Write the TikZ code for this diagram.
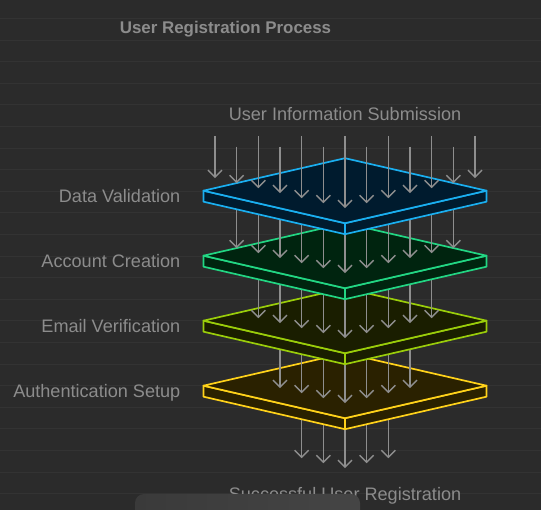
\documentclass[tikz,border=0pt]{standalone}
\usepackage{fontspec}
\setmainfont{Liberation Sans}
\usepackage{tikz}
\usetikzlibrary{arrows.meta}
\definecolor{BgGray}{HTML}{2B2B2B}
\definecolor{GridGray}{HTML}{333333}
\definecolor{TextGray}{HTML}{8C8C8C}
\definecolor{FlowGray}{HTML}{8E8E8E}
\definecolor{ValBlue}{HTML}{1AAFF0}
\definecolor{ValFill}{HTML}{001B2E}
\definecolor{AccGreen}{HTML}{22D683}
\definecolor{AccFill}{HTML}{00240F}
\definecolor{MailLime}{HTML}{9ACD0A}
\definecolor{MailFill}{HTML}{1A1E00}
\definecolor{AuthGold}{HTML}{FFD21A}
\definecolor{AuthFill}{HTML}{2A2100}
\definecolor{PanelDark}{HTML}{3A3A3A}
\definecolor{PanelLight}{HTML}{454545}

% one slab: #1 centre y, #2 edge colour, #3 fill colour
\newcommand{\drawlayer}[3]{%
  \begin{scope}[draw=#2,fill=#3,line width=1.7pt,line join=round]
    \filldraw (203.5,#1) -- (345,{#1+32.5}) -- (345,{#1+43.5}) -- (203.5,{#1+11}) -- cycle;
    \filldraw (486.5,#1) -- (345,{#1+32.5}) -- (345,{#1+43.5}) -- (486.5,{#1+11}) -- cycle;
    \filldraw (203.5,#1) -- (345,{#1-32.5}) -- (486.5,#1) -- (345,{#1+32.5}) -- cycle;
  \end{scope}}
% one row of arrows: #1 half count, #2 centre y of the slab below, #3 start y
\newcommand{\flowrow}[3]{%
  \foreach \j in {-#1,...,#1}{
    \draw[flow] ({345+21.67*\j},#3) -- ({345+21.67*\j},{#2+17.5-5*abs(\j)});
  }}

\begin{document}
\begin{tikzpicture}[
  x=1pt,y=-1pt,
  flow/.style={-{Straight Barb[length=7pt,width=14pt,line width=1.4pt]},line width=1.4pt,FlowGray},
  layerlbl/.style={anchor=base east,inner sep=0pt,text=TextGray,font=\fontsize{18.1}{21}\selectfont},
  endlbl/.style={anchor=base,inner sep=0pt,text=TextGray,font=\fontsize{18.1}{21}\selectfont}
]
\useasboundingbox (0,0) rectangle (541,510);
\fill[BgGray] (0,0) rectangle (541,510);
\foreach \k in {0,...,22}
  \draw[GridGray,line width=1pt] (0,{18.5+21.6*\k}) -- (541,{18.5+21.6*\k});

\node[anchor=base,inner sep=0pt,text=TextGray,font=\bfseries\fontsize{16.9}{20}\selectfont] (title) at (225.5,33.5) {User Registration Process};
\node[endlbl] (inlbl) at (345,120.5) {User Information Submission};

% bottom up, so each slab hides the start of the row below it
\flowrow{2}{450.7}{385.7}
\drawlayer{385.7}{AuthGold}{AuthFill}
\flowrow{3}{385.7}{320.7}
\drawlayer{320.7}{MailLime}{MailFill}
\flowrow{4}{320.7}{255.7}
\drawlayer{255.7}{AccGreen}{AccFill}
\flowrow{5}{255.7}{190.7}
\drawlayer{190.7}{ValBlue}{ValFill}
\foreach \j in {-6,...,6}
  \draw[flow] ({345+21.67*\j},{136+10.7*mod(abs(\j),2)}) -- ({345+21.67*\j},{208.2-5*abs(\j)});

\node[layerlbl] (lblvalid) at (180.5,202.3) {Data Validation};
\node[layerlbl] (lblacc) at (180.5,267.3) {Account Creation};
\node[layerlbl] (lblmail) at (180.5,332.3) {Email Verification};
\node[layerlbl] (lblauth) at (180.5,397.3) {Authentication Setup};

\node[endlbl] (outlbl) at (345,500.5) {Successful User Registration};
\shade[left color=PanelDark,right color=PanelLight,rounded corners=9pt] (135,494) rectangle (360,524);
\end{tikzpicture}
\end{document}
